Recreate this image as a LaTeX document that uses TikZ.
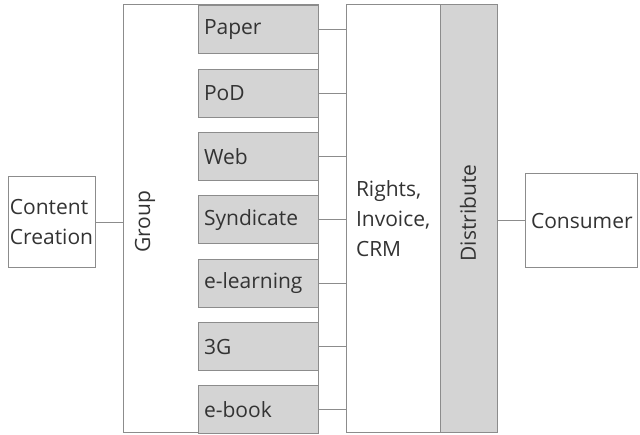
\documentclass[tikz,border=0pt]{standalone}
\usepackage{fontspec}
\setmainfont{Open Sans}
\definecolor{boxline}{HTML}{8C8C8C}
\definecolor{boxfill}{HTML}{D4D4D4}
\definecolor{textgrey}{HTML}{333333}

\begin{document}
\begin{tikzpicture}[x=1pt, y=-1pt,
		every node/.style = {font=\fontsize{21}{30}\selectfont, text=textgrey},
		box/.style = {draw=boxline, line width=1pt, rectangle, inner sep=0pt},
		channel/.style = {box, fill=boxfill, minimum height=48pt, text width=108pt, inner sep=6pt, align=left},
		link/.style = {draw=boxline, line width=1pt}]
	\useasboundingbox (0,0) rectangle (640,435);
	% big boxes
	\node[box, minimum width=87pt, minimum height=91pt, align=left] (creation) at (51.5,222.5) {Content\\Creation};
	\node[box, minimum width=195pt, minimum height=428pt] (group) at (220.5,219) {};
	\node[rotate=90] (grouplbl) at (145,222) {Group};
	\node[box, minimum width=94pt, minimum height=428pt, text width=74pt, inner sep=10pt, align=left] (rights) at (393,219) {Rights,\\Invoice,\\CRM};
	\node[box, fill=boxfill, minimum width=57pt, minimum height=428pt] (dist) at (468.5,219) {};
	\node[rotate=90] (distlbl) at (468,213) {Distribute};
	\node[box, minimum width=112pt, minimum height=94pt, text width=100pt, inner sep=6pt, align=left] (consumer) at (581,221) {Consumer};
	% channels
	\node[channel] (paper) at (258,30) {Paper};
	\node[channel] (pod) at (258,93.3) {PoD};
	\node[channel] (web) at (258,156.7) {Web};
	\node[channel] (synd) at (258,220) {Syndicate};
	\node[channel] (elearn) at (258,283.3) {e-learning};
	\node[channel] (threeg) at (258,346.7) {3G};
	\node[channel] (ebook) at (258,410) {e-book};
	% links
	\draw[link] (creation.east) -- (creation.east -| group.west);
	\draw[link] (paper.east) -- (paper.east -| rights.west);
	\draw[link] (pod.east) -- (pod.east -| rights.west);
	\draw[link] (web.east) -- (web.east -| rights.west);
	\draw[link] (synd.east) -- (synd.east -| rights.west);
	\draw[link] (elearn.east) -- (elearn.east -| rights.west);
	\draw[link] (threeg.east) -- (threeg.east -| rights.west);
	\draw[link] (ebook.east) -- (ebook.east -| rights.west);
	\draw[link] (consumer.west) -- (consumer.west -| dist.east);
\end{tikzpicture}
\end{document}
